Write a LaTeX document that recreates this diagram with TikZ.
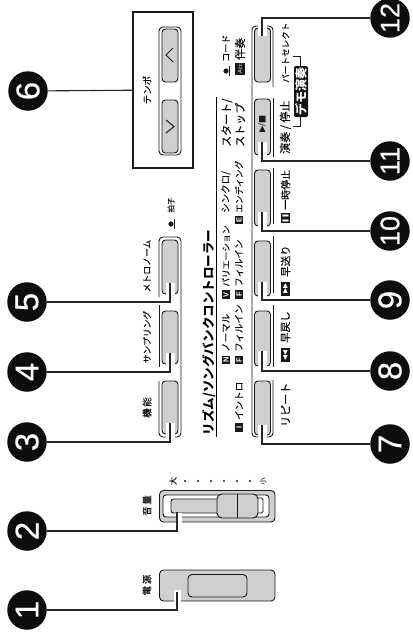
\documentclass[tikz,border=0pt]{standalone}
\usepackage{fontspec}
\setmainfont{Liberation Sans}
\newfontfamily\cjk[FakeBold=0.08]{Noto Sans CJK JP}
\newfontfamily\cjkt{Noto Sans CJK JP}
\newfontfamily\numf[FakeBold=0.4]{Liberation Sans}
\newfontfamily\djv{DejaVu Sans}
\newcommand{\fsz}[1]{\fontsize{#1}{#1}\selectfont}
\tikzset{
  ln/.style={draw=black!90,line width=0.9pt},
  lead/.style={draw=black!85,line width=1.1pt},
  btn/.style={ln,fill=gray!38,rounded corners=3.5pt},
  notch/.style={fill=white,draw=none},
  num/.style={circle,fill=black!95,text=white,minimum size=39.5pt,inner sep=0pt,rotate=90,font=\numf\fsz{33}},
  numb/.style={num,font=\numf\fsz{27}},
  lab/.style={rotate=90,inner sep=0pt,text=black!95,font=\cjk\fsz{9.5}},
  labs/.style={lab,font=\cjk\fsz{8.8}},
  labb/.style={lab,font=\cjk\fsz{11}},
  ic/.style={rotate=90,fill=black!90,text=white,inner sep=0pt,minimum size=8.6pt,font=\bfseries\fsz{7.5}},
  icw/.style={rotate=90,fill=black!90,text=white,inner sep=0pt,minimum width=14pt,minimum height=9.5pt,font=\djv\fsz{6.5}}
}
\newcommand{\leftbtn}[2]{%
  \path[btn] (162,#1) rectangle (178,#2);}
\newcommand{\rightbtn}[2]{%
  \path[btn] (254.5,#1) rectangle (270.5,#2);}
\begin{document}
\begin{tikzpicture}[x=1pt,y=-1pt]
\useasboundingbox (0,0) rectangle (413,633);
% --- power switch
\path[btn,rounded corners=4pt] (159.5,570) rectangle (275,601);
\path[btn,rounded corners=4pt] (188,574.5) rectangle (247,597);
\fill[notch] (173.5,590) rectangle (180.5,602);
% --- volume slider
\path[btn,rounded corners=4pt] (159.5,490.5) rectangle (275,522);
\path[ln,fill=white,rounded corners=3pt] (163,495) rectangle (269,517);
\path[btn,rounded corners=2.5pt] (171,499) rectangle (222,513);
\path[ln,fill=white,rounded corners=1.5pt] (255,498) rectangle (263,513);
\path[btn,rounded corners=5pt] (217,494) rectangle (258,518);
\draw[ln] (237,494) -- (237,518);
\fill[notch] (176,513) rectangle (182,523);
% --- left button group
\draw[ln,rounded corners=4pt] (159,297) -- (159,237) -- (181,237) -- (181,437) -- (159,437) -- (159,381);
\draw[ln] (159,305) -- (159,367);
\leftbtn{240}{294}
\leftbtn{311}{364}
\leftbtn{381}{434}
\fill[notch] (165.5,283) rectangle (174.5,296);
\fill[notch] (165.5,353) rectangle (174.5,366);
\fill[notch] (165.5,423) rectangle (174.5,439);
% --- right button group
\draw[ln,rounded corners=4pt] (273,87) -- (273,26) -- (252,26) -- (252,437) -- (273,437) -- (273,380);
\draw[ln] (273,98) -- (273,157);
\draw[ln] (273,168) -- (273,224);
\draw[ln] (273,236) -- (273,293);
\draw[ln] (273,305) -- (273,367);
\rightbtn{28}{82}
\rightbtn{99}{155}
\rightbtn{170}{226}
\rightbtn{241}{296}
\rightbtn{311}{366}
\rightbtn{381}{435}
\fill[notch] (258,24) rectangle (267,36);
\fill[notch] (258,142) rectangle (267,157);
\fill[notch] (258,212) rectangle (267,228);
\fill[notch] (258,282) rectangle (267,298);
\fill[notch] (258,351) rectangle (267,368);
\fill[notch] (258,425) rectangle (267,439);
% --- tempo
\node[rectangle,draw=black!90,line width=1.5pt,minimum width=60pt,minimum height=156pt,inner sep=0pt] (tempo) at (163,90) {};
\draw[ln,rounded corners=4pt] (159,27) rectangle (181,155);
\path[btn] (162,29) rectangle (178,82);
\path[btn] (162,100) rectangle (178,153);
\draw[ln,line width=1pt] (173,48) -- (166,55) -- (173,62);
\draw[ln,line width=1pt] (166,120) -- (174,126.5) -- (166,133);
% --- end points of leaders
\coordinate (t1) at (177,592);
\coordinate (t2) at (177,512);
\coordinate (t3) at (170,423);
\coordinate (t4) at (170,353);
\coordinate (t5) at (170,283);
\coordinate (t7) at (262,425);
\coordinate (t8) at (262,351);
\coordinate (t9) at (262,282);
\coordinate (t10) at (262,212);
\coordinate (t11) at (262,142);
\coordinate (t12) at (262,36);
% --- number discs
\node[num] (c1) at (27,610) {1};
\node[num] (c2) at (27,531) {2};
\node[num] (c3) at (27,442) {3};
\node[num] (c4) at (27,372) {4};
\node[num] (c5) at (27,302) {5};
\node[num] (c6) at (28,91) {6};
\node[num] (c7) at (390,444) {7};
\node[num] (c8) at (390,371) {8};
\node[num] (c9) at (390,300) {9};
\node[numb] (c10) at (390,231) {10};
\node[numb] (c11) at (390,161) {11};
\node[numb] (c12) at (390,18) {12};
\foreach \n in {1,2,3,4,5,7,8,9,10,11,12}{\draw[lead] (c\n) -| (t\n);}
\draw[lead] (c6) -- (tempo);
% --- labels above controls
\node[lab] (ltempo) at (147,90) {テンポ};
\node[labs] (lmetro) at (147,266) {メトロノーム};
\node[labs] (lsamp) at (147,337) {サンプリング};
\node[lab] (lkino) at (147,407.5) {機\,能};
\node[lab] (lvol) at (147,505.5) {音\,量};
\node[lab] (lpow) at (147,585) {電\,源};
\node[labs,font=\cjk\fsz{7.5}] (lhyo) at (171,205) {拍子};
\fill[black!90] (171,224) circle (2.6pt);
\draw[black!90,line width=1.5pt] (174.5,219) -- (174.5,229);
% --- scale
\node[labs,font=\cjk\fsz{8}] (ldai) at (173,481) {大};
\node[labs,font=\cjk\fsz{7},text=black!70] (lsho) at (263,481) {小};
\foreach \x in {185,198,211,224,237,250}{\fill[black!90] (\x,481) circle (1.1pt);}
% --- title
\node[rotate=90,inner sep=0pt,text=black,font=\cjkt\bfseries\fsz{12.5},anchor=west] (title) at (209,435.5) {リズム/ソングバンクコントローラー};
\draw[black,line width=1.5pt] (216.5,437) -- (216.5,97);
% --- mode labels
\node[ic] (iI) at (239,427.5) {I};
\node[lab,anchor=west] (lintro) at (239,420) {イントロ};
\node[ic] (iN) at (226,360) {N};
\node[lab,anchor=west] (lnorm) at (226,352) {ノーマル};
\node[ic] (iF1) at (239,360) {F};
\node[lab,anchor=west] (lfill1) at (239,352) {フィルイン};
\node[ic] (iV) at (226,294.5) {V};
\node[labs,anchor=west] (lvar) at (226,287) {バリエーション};
\node[ic] (iF2) at (239,294.5) {F};
\node[lab,anchor=west] (lfill2) at (239,287) {フィルイン};
\node[lab,anchor=west] (lsync) at (226,213) {シンクロ/};
\node[ic] (iE) at (239,220) {E};
\node[labs,anchor=west] (lend) at (239,213) {エンディング};
\node[labb,anchor=west] (lstart) at (227,147) {スタート/};
\node[labb,anchor=west] (lstop) at (240,147) {ストップ};
\fill[black!90] (226,71) circle (2.6pt);
\draw[black!90,line width=1.5pt] (229.5,66) -- (229.5,76);
\node[lab,anchor=west,font=\cjk\fsz{9}] (lcode) at (226,62) {コード};
\node[ic,minimum width=12pt,minimum height=9.5pt,font=\fsz{5.5}] (iacc) at (240,68.5) {Acc};
\node[labb,anchor=west] (lban) at (240,60) {伴奏};
% --- labels below buttons
\node[labb,anchor=west] (lrep) at (285.5,427) {リピート};
\node[icw] (irew) at (285.5,355) {◀◀};
\node[labb,anchor=west,font=\cjk\fsz{10.5}] (lrew) at (285.5,343) {早戻し};
\node[icw] (iff) at (285.5,288.5) {▶▶};
\node[labb,anchor=west,font=\cjk\fsz{10.5}] (lff) at (285.5,277) {早送り};
\node[ic] (ipau) at (285.5,218) {\djv\fsz{6}❚❚};
\node[labb,anchor=west,font=\cjk\fsz{10}] (lpau) at (285.5,210) {一時停止};
\node[labb,anchor=west] (lplay) at (285.5,154) {演奏 / 停止};
\node[labb,anchor=west,font=\cjk\fsz{8.6}] (lpart) at (285.5,83) {パートセレクト};
\node[rotate=90,text=black!90,inner sep=0pt,font=\djv\fsz{8.5}] (iplay) at (262,124) {▶/■};
% --- demo bracket
\draw[ln,line width=1pt] (293,56) -- (300,56) -- (300,126) -- (293,126);
\node[rotate=90,fill=black!92,text=white,rounded corners=1.5pt,inner sep=0pt,minimum width=51pt,minimum height=14pt,font=\cjkt\bfseries\fsz{12}] (demo) at (301,91.5) {デモ演奏};
\end{tikzpicture}
\end{document}
